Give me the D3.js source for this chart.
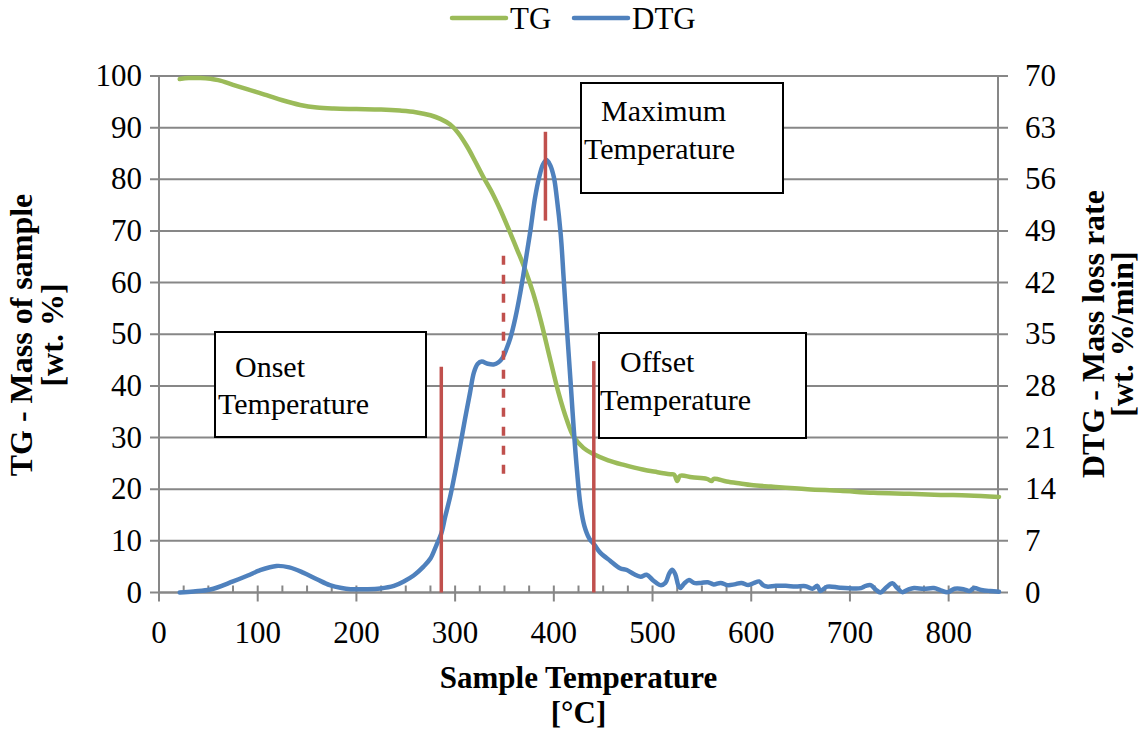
<!DOCTYPE html>
<html>
<head>
<meta charset="utf-8">
<script src="https://cdn.jsdelivr.net/npm/d3@7"></script>
<style>
  html, body { margin: 0; padding: 0; background: #fff; }
  svg text { font-family: "Liberation Serif", "Times New Roman", serif; fill: #000; }
</style>
</head>
<body>
<div id="chart"></div>
<script>
// ─── Data ────────────────────────────────────────────────────
const tgTemp = [21, 30, 42, 60, 75, 90, 109, 125, 143, 160, 177, 200, 225, 244, 260, 275, 285, 295, 303, 312,
    320, 329, 338, 346, 355, 363, 371, 379, 387, 396, 405, 413, 420, 430, 439, 455, 471, 490, 505, 518,
    522, 525, 528, 540, 555, 560, 562, 575, 589, 600, 620, 657, 690, 724, 760, 792, 820, 851];
const tgMass = [99.4, 99.6, 99.6, 99.2, 98.3, 97.4, 96.3, 95.3, 94.4, 93.9, 93.7, 93.6, 93.5, 93.3, 93.0, 92.4, 91.7, 90.6, 89.0, 86.4,
    83.6, 80.3, 77.2, 74.0, 70.0, 66.3, 62.5, 58.0, 52.5, 45.4, 38.5, 33.5, 30.2, 28.0, 26.9, 25.6, 24.7, 23.8, 23.3, 22.9,
    22.8, 21.6, 22.6, 22.3, 22.0, 21.6, 22.0, 21.5, 21.1, 20.8, 20.5, 20.0, 19.7, 19.3, 19.1, 18.9, 18.8, 18.5];

const dtgTemp = [21, 35, 52, 75, 90, 102, 119, 132, 146, 160, 173, 185, 194, 210, 224, 238, 248, 258, 268, 275,
    281, 286, 290, 295, 300, 305, 310, 315, 319, 323, 327, 333, 339, 344, 348, 352, 356, 361, 366, 371,
    376, 381, 385, 389, 392.5, 396, 400, 403, 407, 410, 413.5, 417, 420, 423.5, 427, 431, 436, 441, 447, 457,
    467, 474, 481, 488, 494, 501, 508, 513, 517, 520, 523, 526, 528, 532, 537, 542, 549, 556, 562, 569,
    576, 583, 590, 597, 603, 608, 612, 616, 625, 635, 645, 655, 662, 667, 670, 677, 690, 705, 711, 716,
    721, 726, 731, 737, 743, 748, 753, 759, 765, 775, 785, 792, 799, 806, 815, 821, 826, 833, 842, 851];
const dtgRate = [0, 0.15, 0.4, 1.5, 2.3, 3.0, 3.6, 3.4, 2.7, 1.8, 1.0, 0.6, 0.45, 0.45, 0.55, 0.9, 1.5, 2.3, 3.5, 4.6,
    6.4, 8.0, 10.3, 13.0, 16.3, 19.8, 23.5, 27.0, 29.8, 31.0, 31.3, 31.0, 30.9, 31.2, 31.8, 33.0, 34.5, 37.2, 40.6, 44.6,
    48.8, 53.5, 56.2, 58.0, 58.6, 58.0, 56.3, 53.5, 48.5, 42.5, 35.3, 28.5, 22.5, 16.5, 11.8, 9.0, 7.3, 6.5, 5.4, 4.3,
    3.3, 3.05, 2.5, 2.15, 2.4, 1.6, 1.0, 1.3, 2.6, 3.1, 2.5, 1.0, 0.6, 1.2, 1.7, 1.3, 1.3, 1.4, 1.1, 1.3,
    1.0, 1.1, 1.3, 1.0, 1.3, 1.5, 1.0, 0.8, 0.9, 0.9, 0.8, 0.85, 0.5, 0.9, 0.2, 0.8, 0.65, 0.55, 0.6, 0.9,
    1.0, 0.4, 0.0, 0.7, 1.25, 0.6, 0.05, 0.4, 0.6, 0.5, 0.6, 0.3, 0.05, 0.5, 0.45, 0.2, 0.6, 0.35, 0.2, 0.1];

// vertical marker lines (temperature, TG-axis extent)
const markerTemp   = [286, 349, 391.5, 440.5];
const markerTop    = [43.7, 65.2, 89.2, 44.8];
const markerBottom = [0, 21.8, 72.0, 0];
const markerDashed = [false, true, false, false];

// annotation boxes
const boxLines = [["Onset", "Temperature"], ["Maximum", "Temperature"], ["Offset", "Temperature"]];

const xTicks  = d3.range(0, 801, 100);
const tgTicks = d3.range(0, 101, 10);
const dtgTicks = d3.range(0, 71, 7);

// ─── Layout ──────────────────────────────────────────────────
const W = 1142, H = 731;
const m = { top: 76, right: 144, bottom: 138.5, left: 159 };
const w = W - m.left - m.right;
const h = H - m.top - m.bottom;

const svg = d3.select("#chart").append("svg")
    .attr("width", W).attr("height", H)
    .attr("viewBox", `0 0 ${W} ${H}`)
    .attr("font-family", "'Liberation Serif', 'Times New Roman', serif");
const g = svg.append("g").attr("transform", `translate(${m.left},${m.top})`);

const x  = d3.scaleLinear().domain([0, 850]).range([0, w]);
const yL = d3.scaleLinear().domain([0, 100]).range([h, 0]);
const yR = d3.scaleLinear().domain([0, 70]).range([h, 0]);

const grey = "#878787";
const green = "#9BBB59", blue = "#4F81BD", red = "#C0504D";
const tickFont = "31px";

// ─── Gridlines (extend across the tick marks) ─────────────────
g.append("g").selectAll("line")
    .data(tgTicks)
    .join("line")
    .attr("x1", -9).attr("x2", w + 10)
    .attr("y1", d => yL(d)).attr("y2", d => yL(d))
    .attr("stroke", grey).attr("stroke-width", 2);

// ─── Axes ────────────────────────────────────────────────────
const xAxis = g.append("g").attr("transform", `translate(0,${h})`);
xAxis.append("line").attr("x1", 0).attr("x2", w).attr("stroke", grey).attr("stroke-width", 2);
xAxis.selectAll(".minor")
    .data(d3.range(0, 851, 25))
    .join("line")
    .attr("x1", d => x(d)).attr("x2", d => x(d))
    .attr("y1", -7)
    .attr("y2", d => d % 100 === 0 ? 9 : 0)
    .attr("stroke", grey).attr("stroke-width", 2);
xAxis.selectAll("text")
    .data(xTicks)
    .join("text")
    .attr("x", d => x(d)).attr("y", 50)
    .attr("text-anchor", "middle")
    .style("font-size", tickFont)
    .text(d => d);

const lAxis = g.append("g");
lAxis.append("line").attr("y1", 0).attr("y2", h).attr("stroke", grey).attr("stroke-width", 2);
lAxis.selectAll("text")
    .data(tgTicks)
    .join("text")
    .attr("x", -17).attr("y", d => yL(d) + 10)
    .attr("text-anchor", "end")
    .style("font-size", tickFont)
    .text(d => d);

const rAxis = g.append("g").attr("transform", `translate(${w},0)`);
rAxis.append("line").attr("y1", 0).attr("y2", h).attr("stroke", grey).attr("stroke-width", 2);
rAxis.selectAll("text")
    .data(dtgTicks)
    .join("text")
    .attr("x", 27).attr("y", d => yR(d) + 10)
    .attr("text-anchor", "start")
    .style("font-size", tickFont)
    .text(d => d);

// ─── Axis titles ─────────────────────────────────────────────
svg.append("text")
    .attr("x", m.left + w / 2).attr("y", 688)
    .attr("text-anchor", "middle").style("font-size", "31px").style("font-weight", "bold")
    .text("Sample Temperature");
svg.append("text")
    .attr("x", m.left + w / 2).attr("y", 723)
    .attr("text-anchor", "middle").style("font-size", "31px").style("font-weight", "bold")
    .text("[°C]");

[["TG - Mass of sample", 32], ["[wt. %]", 63]].forEach(([t, bx]) => {
    svg.append("text")
        .attr("transform", `translate(${bx},335) rotate(-90)`)
        .attr("text-anchor", "middle").style("font-size", "32px").style("font-weight", "bold")
        .text(t);
});
[["DTG - Mass loss rate", 1104], ["[wt. %/min]", 1133]].forEach(([t, bx]) => {
    svg.append("text")
        .attr("transform", `translate(${bx},334) rotate(-90)`)
        .attr("text-anchor", "middle").style("font-size", "32px").style("font-weight", "bold")
        .text(t);
});

// ─── Curves ──────────────────────────────────────────────────
const tgLine = d3.line()
    .x((d, i) => x(tgTemp[i]))
    .y(d => yL(d))
    .curve(d3.curveCatmullRom.alpha(0.5));
const dtgLine = d3.line()
    .x((d, i) => x(dtgTemp[i]))
    .y(d => yR(d))
    .curve(d3.curveCatmullRom.alpha(0.5));

g.append("path").datum(tgMass)
    .attr("d", tgLine).attr("fill", "none")
    .attr("stroke", green).attr("stroke-width", 4.5).attr("stroke-linejoin", "round").attr("stroke-linecap", "round");
g.append("path").datum(dtgRate)
    .attr("d", dtgLine).attr("fill", "none")
    .attr("stroke", blue).attr("stroke-width", 4.5).attr("stroke-linejoin", "round").attr("stroke-linecap", "round");

// ─── Marker lines ────────────────────────────────────────────
g.selectAll(".marker")
    .data(markerTemp)
    .join("line")
    .attr("x1", d => x(d)).attr("x2", d => x(d))
    .attr("y1", (d, i) => yL(markerTop[i]))
    .attr("y2", (d, i) => yL(markerBottom[i]))
    .attr("stroke", red).attr("stroke-width", 3.5)
    .attr("stroke-dasharray", (d, i) => markerDashed[i] ? "9,10" : null);

// ─── Annotation boxes ────────────────────────────────────────
const boxes = [
    { x: 215, y: 332, w: 211, h: 105, tx: [235, 218], ty: [377, 414] },
    { x: 581, y: 83,  w: 202, h: 110, tx: [601, 584], ty: [121, 159] },
    { x: 599, y: 333, w: 207, h: 105, tx: [620, 600], ty: [372, 410] }
];
boxes.forEach((b, i) => {
    svg.append("rect")
        .attr("x", b.x).attr("y", b.y).attr("width", b.w).attr("height", b.h)
        .attr("fill", "#fff").attr("stroke", "#000").attr("stroke-width", 2);
    boxLines[i].forEach((t, j) => {
        svg.append("text")
            .attr("x", b.tx[j]).attr("y", b.ty[j])
            .style("font-size", "30px")
            .text(t);
    });
});

// ─── Legend ──────────────────────────────────────────────────
const legend = svg.append("g").attr("transform", "translate(452,18)");
[["TG", green, 0], ["DTG", blue, 122]].forEach(([t, c, dx]) => {
    legend.append("line")
        .attr("x1", dx).attr("x2", dx + 54).attr("y1", 0).attr("y2", 0)
        .attr("stroke", c).attr("stroke-width", 4.5).attr("stroke-linecap", "round");
    legend.append("text")
        .attr("x", dx + 58).attr("y", 11)
        .style("font-size", "31px")
        .text(t);
});
</script>
</body>
</html>
